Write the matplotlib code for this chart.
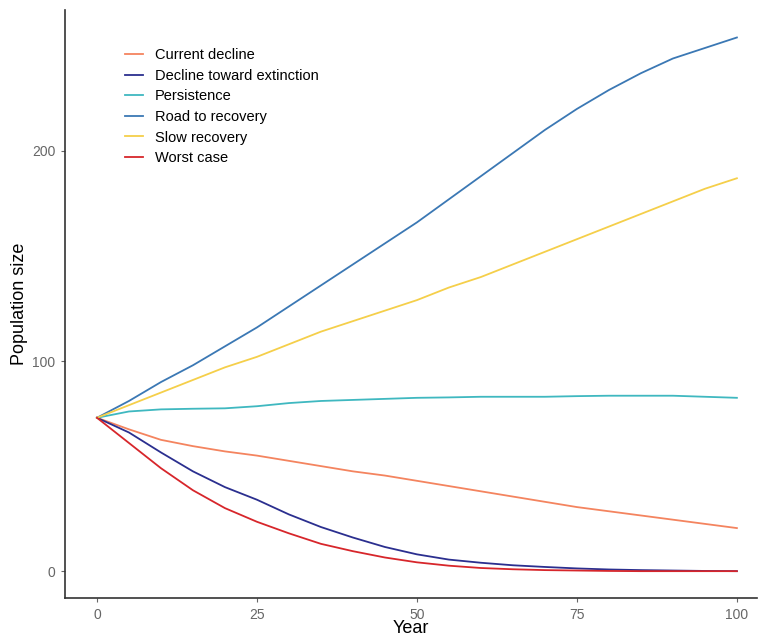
import matplotlib.pyplot as plt
import numpy as np

plt.rcParams['font.family'] = ['Liberation Sans', 'DejaVu Sans']

years = np.arange(0, 101, 5)

current_decline = [73, 67.5, 62.5, 59.5, 57, 55, 52.5, 50, 47.5, 45.5, 43, 40.5,
                   38, 35.5, 33, 30.5, 28.5, 26.5, 24.5, 22.5, 20.5]
decline_extinction = [73, 66, 56.5, 47.5, 40, 34, 27, 21, 16, 11.5, 8, 5.5,
                      4, 2.8, 2, 1.3, 0.8, 0.5, 0.3, 0.1, 0]
persistence = [73, 76, 77, 77.3, 77.5, 78.5, 80, 81, 81.5, 82, 82.5, 82.7,
               83, 83, 83, 83.3, 83.5, 83.5, 83.5, 83, 82.5]
road_recovery = [73, 81, 90, 98, 107, 116, 126, 136, 146, 156, 166, 177,
                 188, 199, 210, 220, 229, 237, 244, 249, 254]
slow_recovery = [73, 79, 85, 91, 97, 102, 108, 114, 119, 124, 129, 135,
                 140, 146, 152, 158, 164, 170, 176, 182, 187]
worst_case = [73, 61, 49, 38.5, 30, 23.5, 18, 13, 9.5, 6.5, 4.2, 2.6,
              1.5, 0.9, 0.5, 0.3, 0.1, 0, 0, 0, 0]

series = [
    ("Current decline", current_decline, "#f4845f"),
    ("Decline toward extinction", decline_extinction, "#2b2f8f"),
    ("Persistence", persistence, "#3fb8c0"),
    ("Road to recovery", road_recovery, "#3b78b4"),
    ("Slow recovery", slow_recovery, "#f5cf4a"),
    ("Worst case", worst_case, "#d7262b"),
]

fig = plt.figure(figsize=(7.59, 6.36), dpi=100)
ax = fig.add_axes([0.0856, 0.06, 0.9114, 0.924])

for name, vals, col in series:
    ax.plot(years, vals, color=col, lw=1.3, label=name)

ax.set_xlim(-5, 103.1)
ax.set_ylim(-12.7, 267)
ax.set_xticks([0, 25, 50, 75, 100])
ax.set_yticks([0, 100, 200])

for s in ["top", "right"]:
    ax.spines[s].set_visible(False)
for s in ["left", "bottom"]:
    ax.spines[s].set_color("#333333")
    ax.spines[s].set_linewidth(1.2)
ax.tick_params(colors="#666666", labelsize=10, length=3, width=0.8,
               labelcolor="#666666", pad=4)

ax.set_xlabel("Year", fontsize=13, labelpad=-1)
ax.set_ylabel("Population size", fontsize=13, labelpad=3)

ax.legend(loc="upper left", bbox_to_anchor=(0.079, 0.945), frameon=False,
          fontsize=10.5, handlelength=1.2, handletextpad=0.8,
          labelspacing=0.45, borderaxespad=0)

fig.savefig("out.png", dpi=100)
